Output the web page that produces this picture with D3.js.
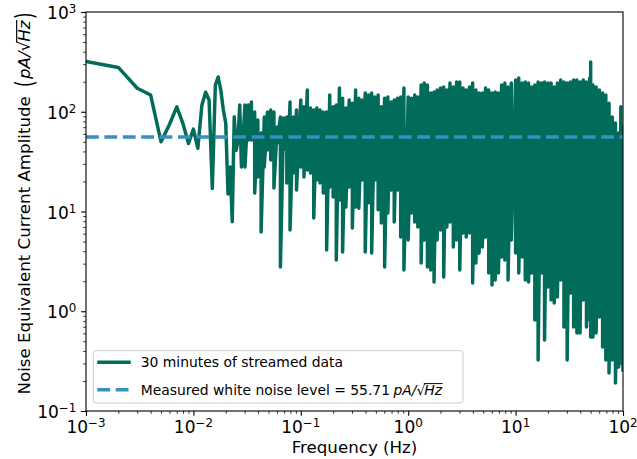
<!DOCTYPE html>
<html><head><meta charset="utf-8">
<script src="https://cdn.jsdelivr.net/npm/d3@7"></script>
<style>
body{margin:0;background:#fff}
svg{display:block}
text{font-family:"DejaVu Sans",sans-serif;fill:#000;white-space:pre}
</style>
</head><body>
<svg id="chart" width="637" height="459"></svg>
<script>
// ---------- data ----------
// individual low-frequency bins (Hz) and amplitudes (pA/sqrt(Hz))
const lowFreq = [0.001,0.002,0.003,0.004,0.005,0.006,0.007,0.008,0.009,0.010,0.011,0.012,0.013,0.014,0.015,0.016,0.017,0.018,0.019,0.020,0.021,0.022,0.023,0.024,0.025,0.026,0.027,0.028];
const lowAmp  = [320,278,172,147,50,75,112,76,48,67,43,117,157,131,17,185,223,165,104,77,15,28,7.9,89,41,52,117,28];

// dense part of the spectrum: per frequency, the upper and lower extent of the trace
const denseFreq = [
  0.0302,0.0324,0.0347,0.0372,0.0398,0.0427,0.0457,0.0490,0.0525,0.0562,0.0603,0.0646,0.0692,0.0741,0.0794,0.0851,0.0912,
  0.100,0.107,0.115,0.123,0.132,0.141,0.151,0.162,0.174,0.186,0.200,0.214,0.229,0.245,0.263,0.282,0.302,0.324,0.347,0.372,0.398,0.427,0.457,0.490,0.525,0.562,0.603,0.646,0.692,0.741,0.794,0.851,0.912,
  1.00,1.07,1.15,1.23,1.32,1.41,1.51,1.62,1.74,1.86,2.00,2.14,2.29,2.45,2.63,2.82,3.02,3.24,3.47,3.72,3.98,4.27,4.57,4.90,5.25,5.62,6.03,6.46,6.92,7.41,7.94,8.51,9.12,
  10.0,10.7,11.5,12.3,13.2,14.1,15.1,16.2,17.4,18.6,20.0,21.4,22.9,24.5,26.3,28.2,30.2,32.4,34.7,37.2,39.8,42.7,45.7,49.0,50.0,52.5,56.2,60.3,64.6,69.2,74.1,79.4,85.1,91.2,95.5,100
];
const denseHigh = [
  117,117,125,99.5,82.6,61.2,88.5,99.5,104,99.5,70.3,88.5,86.5,88.5,125,88.5,104,
  131,112,165,109,104,109,104,99.5,99.5,147,112,117,173,137,109,131,122,165,137,131,154,147,154,141,147,112,137,141,125,131,137,141,173,
  141,137,147,141,185,194,185,154,158,165,173,177,165,194,177,199,199,173,165,177,194,165,154,154,173,165,154,158,154,185,194,177,194,
  208,218,194,199,194,177,185,199,194,199,194,194,177,194,208,199,194,199,208,208,199,208,199,218,316,185,177,165,154,147,122,88.5,77.1,61.2,112,70.3
];
const denseLow = [
  27.9,52.1,52.1,15.3,22.2,6.23,27.9,41.4,32.8,17.2,48.6,2.78,41.4,19.3,6.53,24.3,16.4,
  27.9,22.2,26.1,24.3,8.61,20.7,19.3,15.3,4.11,17.6,14.0,3.27,13.0,3.93,11.1,17.6,6.84,11.1,10.8,20.7,3.93,12.2,3.84,20.7,10.4,7.67,2.78,9.66,16.4,7.85,16.4,5.55,2.59,
  5.18,9.66,7.85,7.0,3.05,5.18,2.78,2.59,1.96,5.18,6.53,2.20,7.0,7.85,4.41,5.18,2.59,6.10,5.55,6.10,1.92,3.05,3.84,4.41,5.55,2.42,1.83,2.06,2.42,3.50,3.27,2.06,5.18,
  3.84,2.42,3.50,2.06,1.96,2.42,0.817,0.325,2.42,0.515,1.75,1.30,1.21,1.39,2.06,0.695,0.325,1.52,0.695,0.605,0.605,1.30,0.695,0.817,0.552,0.552,0.605,0.875,0.438,0.325,0.240,0.325,0.191,0.276,0.303,0.258
];

const whiteNoiseLevel = 55.71;
const xDomain = [1e-3, 1e2];
const yDomain = [1e-1, 1e3];
const xTickExponents = [-3, -2, -1, 0, 1, 2];
const yTickExponents = [-1, 0, 1, 2, 3];
const xLabel = "Frequency (Hz)";
const yLabelText = "Noise Equivalent Current Amplitude";
const legendLabels = ["30 minutes of streamed data", "Measured white noise level = 55.71"];

// ---------- layout ----------
const M = {left: 86, right: 623, top: 12, bottom: 411};
const GREEN = "#016c59", BLUE = "#3690c0";
const LW = 3.47;

const svg = d3.select("#chart");
const x = d3.scaleLog().domain(xDomain).range([M.left, M.right]);
const y = d3.scaleLog().domain(yDomain).range([M.bottom, M.top]);

svg.append("defs").append("clipPath").attr("id", "plotclip")
  .append("rect").attr("x", M.left).attr("y", M.top)
  .attr("width", M.right - M.left).attr("height", M.bottom - M.top);

// build trace
const pts = lowFreq.map((f, i) => [f, lowAmp[i]]);
denseFreq.forEach((f, i) => { pts.push([f, denseHigh[i]]); pts.push([f, denseLow[i]]); });

const line = d3.line().x(d => x(d[0])).y(d => y(d[1]));
const plot = svg.append("g").attr("clip-path", "url(#plotclip)");
plot.append("path").attr("d", line(pts))
  .attr("fill", "none").attr("stroke", GREEN).attr("stroke-width", LW)
  .attr("stroke-linejoin", "round").attr("stroke-linecap", "square");

plot.append("path").attr("d", line([[xDomain[0], whiteNoiseLevel], [xDomain[1], whiteNoiseLevel]]))
  .attr("fill", "none").attr("stroke", BLUE).attr("stroke-width", LW)
  .attr("stroke-dasharray", "12.8,5.6");

// spines
svg.append("rect").attr("x", M.left).attr("y", M.top)
  .attr("width", M.right - M.left).attr("height", M.bottom - M.top)
  .attr("fill", "none").attr("stroke", "#000").attr("stroke-width", 1.1);

// ticks
const minorX = [], minorY = [];
for (let e = -3; e < 2; e++) for (let m = 2; m <= 9; m++) minorX.push(m * Math.pow(10, e));
for (let e = -1; e < 3; e++) for (let m = 2; m <= 9; m++) minorY.push(m * Math.pow(10, e));
const majX = xTickExponents.map(e => Math.pow(10, e));
const majY = yTickExponents.map(e => Math.pow(10, e));

function styleAxis(g) { g.select(".domain").remove(); g.selectAll("text").remove();
  g.selectAll("line").attr("stroke", "#000"); }
svg.append("g").attr("transform", `translate(0,${M.bottom})`)
  .call(d3.axisBottom(x).tickValues(majX).tickSize(4.86).tickSizeOuter(0).tickFormat(""))
  .call(styleAxis).selectAll("line").attr("stroke-width", 1.1);
svg.append("g").attr("transform", `translate(0,${M.bottom})`)
  .call(d3.axisBottom(x).tickValues(minorX).tickSize(2.78).tickSizeOuter(0).tickFormat(""))
  .call(styleAxis).selectAll("line").attr("stroke-width", 0.8);
svg.append("g").attr("transform", `translate(${M.left},0)`)
  .call(d3.axisLeft(y).tickValues(majY).tickSize(4.86).tickSizeOuter(0).tickFormat(""))
  .call(styleAxis).selectAll("line").attr("stroke-width", 1.1);
svg.append("g").attr("transform", `translate(${M.left},0)`)
  .call(d3.axisLeft(y).tickValues(minorY).tickSize(2.78).tickSizeOuter(0).tickFormat(""))
  .call(styleAxis).selectAll("line").attr("stroke-width", 0.8);

const TF = 17;
function powLabel(sel, e) {
  sel.append("tspan").text("10");
  sel.append("tspan").attr("dy", -6).style("font-size", (TF * 0.7) + "px")
    .text(e < 0 ? "\u2212" + (-e) : String(e));
}
xTickExponents.forEach(e => {
  const t = svg.append("text").attr("x", x(Math.pow(10, e))).attr("y", 433)
    .attr("text-anchor", "middle").style("font-size", TF + "px");
  powLabel(t, e);
});
yTickExponents.forEach(e => {
  const t = svg.append("text").attr("x", M.left - 9.7).attr("y", y(Math.pow(10, e)) + 7)
    .attr("text-anchor", "end").style("font-size", TF + "px");
  powLabel(t, e);
});

// axis labels
const LF = 16.67;
svg.append("text").attr("x", (M.left + M.right) / 2).attr("y", 453)
  .attr("text-anchor", "middle").style("font-size", LF + "px").text(xLabel);

function renderPieces(g, pieces, size) {
  let cx = 0; const info = [];
  pieces.forEach(p => {
    const t = g.append("text").attr("x", cx).attr("y", p.dy || 0)
      .style("font-size", (p.scale || 1) * size + "px")
      .style("font-style", p.italic ? "italic" : "normal")
      .text(p.t);
    if (p.sy) t.attr("transform", `translate(0,${p.dy||0}) scale(1,${p.sy}) translate(0,${-(p.dy||0)})`);
    const w = t.node().getComputedTextLength();
    info.push({x0: cx, x1: cx + w});
    cx += w + (p.gap || 0);
  });
  return {width: cx, info};
}
function unitPieces(withParens) {
  const arr = [];
  if (withParens) arr.push({t: "(", sy: 1.5, dy: 3, gap: 1.5});
  arr.push({t: "pA/", italic: true});
  arr.push({t: "\u221A", gap: -1});
  arr.push({t: "Hz", italic: true, over: true, gap: 1.5});
  if (withParens) arr.push({t: ")", sy: 1.5, dy: 3});
  return arr;
}
function drawOverline(g, res, pieces, size) {
  const ri = pieces.findIndex(p => p.t === "\u221A");
  const hi = pieces.findIndex(p => p.over);
  const x0 = res.info[ri].x1 - 1.5, x1 = res.info[hi].x1 + 0.5;
  g.append("line").attr("x1", x0).attr("x2", x1)
    .attr("y1", -0.8 * size).attr("y2", -0.8 * size)
    .attr("stroke", "#000").attr("stroke-width", 0.07 * size);
}

// y label (rotated)
{
  const g = svg.append("g");
  const pieces = [{t: yLabelText, gap: 0.55 * LF}].concat(unitPieces(true));
  const res = renderPieces(g, pieces, LF);
  drawOverline(g, res, pieces, LF);
  const cy = (M.top + M.bottom) / 2 - 8;
  g.attr("transform", `translate(30,${cy}) rotate(-90) translate(${-res.width / 2},0)`);
}

// legend
const LGF = 13.9;
const leg = svg.append("g");
leg.append("rect").attr("x", 93.3).attr("y", 350.7).attr("width", 369.7).attr("height", 52.3)
  .attr("rx", 2.8).attr("fill", "#fff").attr("fill-opacity", 0.8)
  .attr("stroke", "#cccccc").attr("stroke-width", 1);
leg.append("line").attr("x1", 99).attr("x2", 129).attr("y1", 362.3).attr("y2", 362.3)
  .attr("stroke", GREEN).attr("stroke-width", LW).attr("stroke-linecap", "square");
leg.append("line").attr("x1", 97.3).attr("x2", 129.3).attr("y1", 389.7).attr("y2", 389.7)
  .attr("stroke", BLUE).attr("stroke-width", LW).attr("stroke-dasharray", "12.8,5.6");
leg.append("text").attr("x", 140.7).attr("y", 367.3).style("font-size", LGF + "px").text(legendLabels[0]);
{
  const g = leg.append("g").attr("transform", "translate(140.7,394.7)");
  const pieces = [{t: legendLabels[1], gap: 0.25 * LGF}].concat(unitPieces(false));
  const res = renderPieces(g, pieces, LGF);
  drawOverline(g, res, pieces, LGF);
}
</script>
</body></html>
